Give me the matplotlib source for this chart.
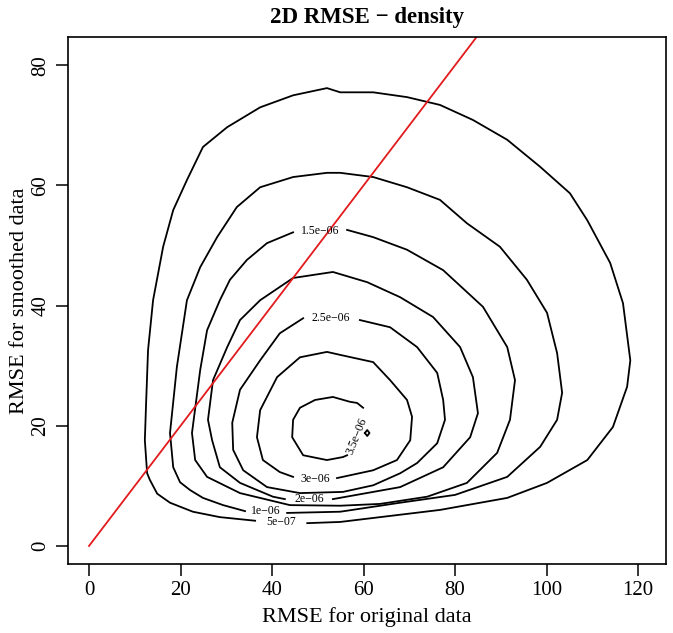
import numpy as np
import matplotlib
matplotlib.use("Agg")
import matplotlib.pyplot as plt

plt.rcParams['font.family'] = ['Liberation Serif', 'DejaVu Serif']

# contour paths (x, y), each one open at its label gap
lvl_5e07 = [(47.7, 3.8), (54.9, 4.0), (76.7, 6.0), (91.4, 8.0), (100.1, 10.5), (108.9, 14.3),
            (114.5, 19.8), (117.6, 26.5), (118.3, 30.9), (116.7, 40.4), (113.9, 47.1),
            (108.9, 54.2), (105.1, 58.7), (98.6, 63.1), (91.4, 67.6), (83.9, 70.9),
            (76.7, 73.4), (69.5, 74.7), (62.1, 75.5), (54.9, 75.5), (52.0, 76.2),
            (44.6, 75.0), (37.4, 73.0), (30.2, 69.7), (24.9, 66.4), (21.4, 60.9),
            (18.4, 55.9), (16.2, 49.8), (14.0, 40.9), (12.9, 32.6), (12.5, 24.3),
            (12.2, 17.6), (12.7, 12.1), (13.3, 11.0), (14.9, 8.7), (17.7, 7.2),
            (22.7, 5.7), (28.6, 4.8), (36.3, 4.2)]
lvl_1e06 = [(43.3, 5.5), (54.9, 5.7), (68.0, 7.2), (80.0, 8.5), (91.4, 11.5), (98.6, 16.5),
            (102.3, 21.0), (103.4, 25.5), (102.3, 32.1), (100.1, 38.8), (95.7, 44.3),
            (89.8, 49.8), (82.6, 53.7), (76.7, 57.6), (69.5, 59.7), (62.1, 61.4),
            (54.9, 62.1), (52.0, 62.1), (44.6, 61.4), (37.4, 59.7), (32.3, 56.4),
            (28.0, 51.4), (24.3, 46.4), (21.4, 40.9), (19.2, 29.8), (17.7, 18.8),
            (18.4, 13.1), (19.9, 10.6), (22.1, 9.3), (24.9, 8.0), (29.3, 6.8), (34.1, 5.8)]
lvl_15e07 = [(56.4, 52.6), (62.1, 51.4), (69.5, 49.3), (77.4, 45.9), (86.1, 39.8),
             (91.4, 33.1), (93.1, 27.6), (92.0, 21.0), (89.2, 15.5), (82.6, 10.5),
             (73.9, 8.2), (63.6, 7.0), (54.9, 6.7), (43.9, 6.8), (33.0, 8.8), (25.8, 11.5),
             (23.2, 14.3), (22.5, 18.8), (24.3, 29.3), (25.8, 35.9), (28.6, 40.9),
             (30.8, 44.3), (34.5, 47.6), (38.9, 50.4), (44.6, 52.2)]
lvl_2e06 = [(53.3, 7.8), (68.0, 9.8), (77.4, 13.1), (83.3, 18.1), (85.0, 22.1), (83.9, 28.1),
            (81.1, 33.1), (75.2, 38.1), (68.0, 41.4), (60.8, 43.9), (53.3, 45.6),
            (44.6, 44.6), (37.4, 40.9), (33.0, 37.6), (30.2, 33.1), (27.1, 27.6),
            (26.0, 21.0), (26.9, 17.6), (28.6, 13.1), (33.0, 10.5), (40.2, 8.2), (42.8, 7.8)]
lvl_25e07 = [(59.2, 37.6), (65.8, 36.4), (71.7, 33.1), (76.1, 28.8), (77.4, 24.3),
             (77.8, 21.0), (76.1, 17.1), (71.7, 13.8), (68.0, 12.1), (62.1, 10.1),
             (55.5, 9.0), (46.1, 8.8), (38.9, 9.8), (33.7, 12.6), (31.5, 16.0),
             (31.3, 20.5), (33.0, 26.0), (37.4, 30.9), (41.7, 35.4), (46.8, 37.9)]
lvl_3e06 = [(54.2, 11.3), (62.1, 12.6), (67.3, 14.3), (70.2, 17.6), (70.6, 21.5), (69.5, 24.3),
            (65.8, 27.6), (62.1, 30.6), (54.9, 31.8), (52.0, 32.3), (46.1, 31.4),
            (41.1, 28.1), (37.4, 22.6), (36.7, 18.1), (38.0, 14.3), (41.7, 12.3), (44.6, 11.5)]
lvl_35e07 = [(59.9, 23.0), (58.6, 23.8), (57.0, 24.0), (53.3, 24.8), (49.4, 24.3),
             (46.1, 23.0), (44.6, 21.0), (44.4, 18.1), (46.8, 15.1), (52.0, 14.3),
             (55.5, 14.8), (56.4, 15.1)]
island = [(60.3, 18.8), (60.8, 19.3), (61.3, 18.8), (60.8, 18.3), (60.3, 18.8)]

level_names = ['5e\u221207', '1e\u221206', '1.5e\u221206', '2e\u221206',
               '2.5e\u221206', '3e\u221206', '3.5e\u221206']
label_x = [42.0, 38.7, 50.5, 48.1, 52.9, 49.4, 58.6]
label_y = [4.0, 5.9, 52.4, 7.8, 37.9, 11.1, 18.3]
label_rot = [0, 0, 0, 0, 0, 0, 68]

fig = plt.figure(figsize=(6.73, 6.33), dpi=100)
ax = fig.add_axes([0.101, 0.109, 0.8886, 0.8325])

paths = [lvl_5e07, lvl_1e06, lvl_15e07, lvl_2e06, lvl_25e07, lvl_3e06, lvl_35e07, island]
for p in paths:
    arr = np.array(p)
    ax.plot(arr[:, 0], arr[:, 1], color='black', lw=1.3, solid_joinstyle='round')

for name, lx, ly, r in zip(level_names, label_x, label_y, label_rot):
    ax.text(lx, ly, name, fontsize=8.5, ha='center', va='center', rotation=r)

# diagonal reference line
ax.plot([0, 130], [0, 130], color='#e31a1c', lw=1.3)

ax.set_xlim(-4.6, 126.1)
ax.set_ylim(-3.0, 84.7)
ax.set_xticks([0, 20, 40, 60, 80, 100, 120])
ax.set_yticks([0, 20, 40, 60, 80])
ax.tick_params(direction='out', length=8.5, width=1.1, labelsize=15, pad=4)
for lab in ax.get_yticklabels():
    lab.set_rotation(90)
    lab.set_va('center')
for s in ax.spines.values():
    s.set_linewidth(1.2)

fig.text(367 / 673, 1 - 17 / 633, '2D RMSE \u2212 density', fontsize=16.5,
         fontweight='bold', ha='center', va='center')
ax.set_xlabel('RMSE for original data', fontsize=16)
ax.set_ylabel('RMSE for smoothed data', fontsize=16)
ax.xaxis.set_label_coords(0.5, -0.082)
ax.yaxis.set_label_coords(-0.066, 0.5)

fig.savefig('out.png', dpi=100)
